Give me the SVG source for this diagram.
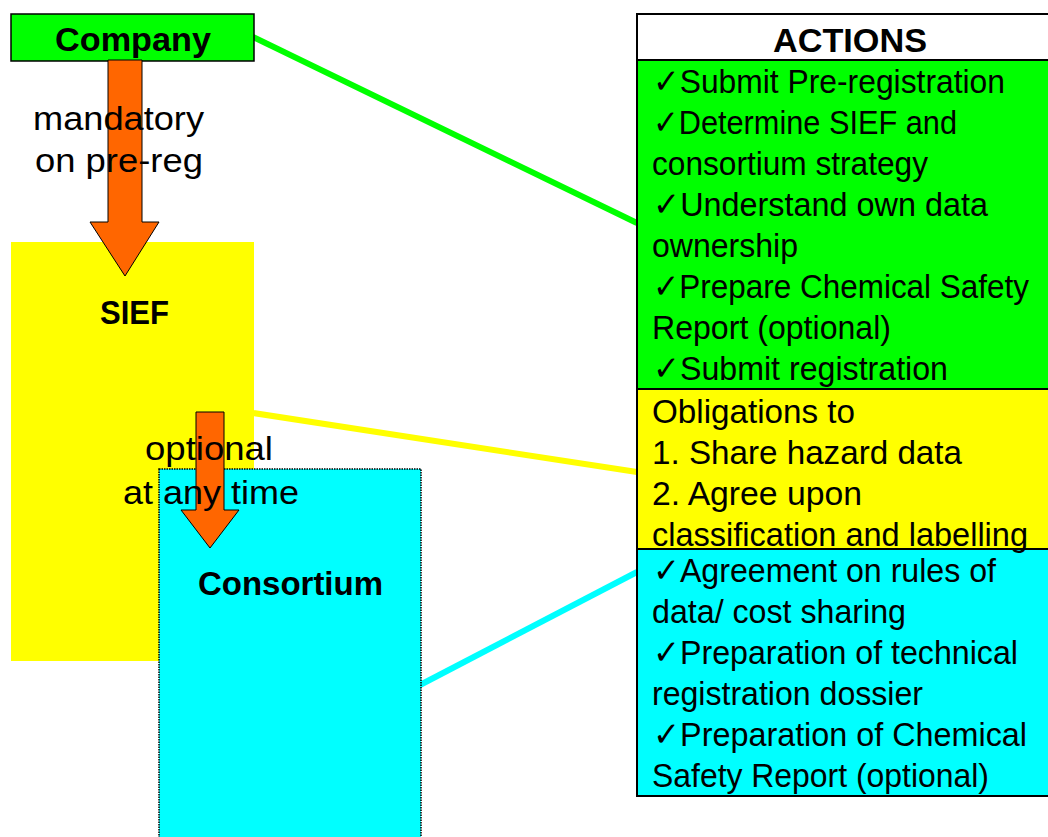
<svg xmlns="http://www.w3.org/2000/svg" width="1048" height="837" viewBox="0 0 1048 837">
<defs>
<style>
.lbl{font-family:"Liberation Sans",Arial,sans-serif;font-size:33px;fill:#000}
.b{font-weight:bold}
.t{font-family:"Liberation Sans","DejaVu Sans",Arial,sans-serif;font-size:34px;fill:#000}
.cell{stroke:#000;stroke-width:2}
.arrow{fill:#FF6600;stroke:#000;stroke-width:1}
.conn{stroke-width:6;fill:none}
</style>
</defs>
<rect width="1048" height="837" fill="#fff"/>
<g id="connectors">
<line class="conn" x1="253" y1="37" x2="637" y2="223" stroke="#00FF00"/>
<line class="conn" x1="253" y1="413" x2="637" y2="472" stroke="#FFFF00"/>
<line class="conn" x1="420" y1="685" x2="637" y2="572" stroke="#00FFFF"/>
</g>
<g id="company">
<rect x="11" y="14" width="243" height="47" fill="#00FF00" stroke="#000" stroke-width="1.5"/>
<text class="lbl b" x="55" y="51" font-size="35" textLength="156" lengthAdjust="spacingAndGlyphs">Company</text>
</g>
<g id="sief">
<rect x="11" y="242" width="243" height="419" fill="#FFFF00"/>
<text class="lbl b" x="100" y="324" font-size="37" textLength="69" lengthAdjust="spacingAndGlyphs">SIEF</text>
</g>
<g id="consortium">
<rect x="159" y="469" width="262" height="380" fill="#00FFFF" stroke="#000" stroke-width="1.5" stroke-dasharray="1.5,1"/>
<text class="lbl b" x="198" y="595" font-size="35" textLength="185" lengthAdjust="spacingAndGlyphs">Consortium</text>
</g>
<g id="actions">
<rect class="cell" x="637" y="14" width="412" height="46" fill="#fff"/>
<rect class="cell" x="637" y="60" width="412" height="329" fill="#00FF00"/>
<rect class="cell" x="637" y="389" width="412" height="160" fill="#FFFF00"/>
<rect class="cell" x="637" y="549" width="412" height="247" fill="#00FFFF"/>
<text class="lbl b" x="773" y="52" font-size="40" textLength="154" lengthAdjust="spacingAndGlyphs">ACTIONS</text>
<text class="t" x="653" y="93" textLength="352" lengthAdjust="spacingAndGlyphs">✓Submit Pre-registration</text>
<text class="t" x="653" y="134" textLength="304" lengthAdjust="spacingAndGlyphs">✓Determine SIEF and</text>
<text class="t" x="652" y="175" textLength="276" lengthAdjust="spacingAndGlyphs">consortium strategy</text>
<text class="t" x="653" y="216" textLength="335" lengthAdjust="spacingAndGlyphs">✓Understand own data</text>
<text class="t" x="652" y="257" textLength="146" lengthAdjust="spacingAndGlyphs">ownership</text>
<text class="t" x="653" y="298" font-size="32" textLength="376" lengthAdjust="spacingAndGlyphs">✓Prepare Chemical Safety</text>
<text class="t" x="652" y="339" textLength="239" lengthAdjust="spacingAndGlyphs">Report (optional)</text>
<text class="t" x="653" y="380" textLength="295" lengthAdjust="spacingAndGlyphs">✓Submit registration</text>
<text class="t" x="652" y="423" textLength="203" lengthAdjust="spacingAndGlyphs">Obligations to</text>
<text class="t" x="652" y="464" textLength="310" lengthAdjust="spacingAndGlyphs">1. Share hazard data</text>
<text class="t" x="652" y="505" textLength="210" lengthAdjust="spacingAndGlyphs">2. Agree upon</text>
<text class="t" x="652" y="546" textLength="376" lengthAdjust="spacingAndGlyphs">classification and labelling</text>
<text class="t" x="653" y="582" textLength="343" lengthAdjust="spacingAndGlyphs">✓Agreement on rules of</text>
<text class="t" x="652" y="623" textLength="254" lengthAdjust="spacingAndGlyphs">data/ cost sharing</text>
<text class="t" x="653" y="664" textLength="365" lengthAdjust="spacingAndGlyphs">✓Preparation of technical</text>
<text class="t" x="652" y="705" textLength="271" lengthAdjust="spacingAndGlyphs">registration dossier</text>
<text class="t" x="653" y="746" textLength="374" lengthAdjust="spacingAndGlyphs">✓Preparation of Chemical</text>
<text class="t" x="652" y="787" textLength="337" lengthAdjust="spacingAndGlyphs">Safety Report (optional)</text>
</g>
<g id="arrows">
<polygon class="arrow" points="108,60 142,60 142,222 159,222 125,276 90,222 108,222"/>
<polygon class="arrow" points="196,412 224,412 224,510 239,510 210,548 181,510 196,510"/>
<text class="lbl" x="33" y="130" textLength="171" lengthAdjust="spacingAndGlyphs">mandatory</text>
<text class="lbl" x="35" y="172" textLength="168" lengthAdjust="spacingAndGlyphs">on pre-reg</text>
<text class="lbl" x="145" y="460" textLength="128" lengthAdjust="spacingAndGlyphs">optional</text>
<text class="lbl" x="123" y="504" textLength="176" lengthAdjust="spacingAndGlyphs">at any time</text>
</g>
</svg>
